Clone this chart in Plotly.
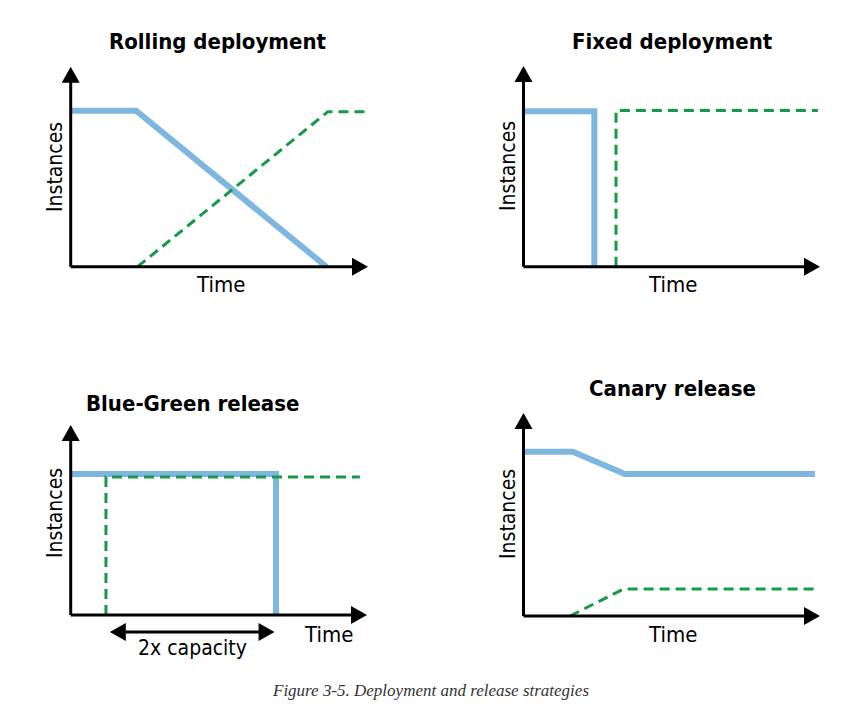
import plotly.graph_objects as go

W, H = 860, 712

# ---------------- data (time / instances, 0..10 units along each axis) -------------
ROLL_BLUE_T = [0.0, 2.2, 8.6]
ROLL_BLUE_N = [7.8, 7.8, 0.0]
ROLL_GREEN_T = [2.25, 8.65, 9.98]
ROLL_GREEN_N = [0.0, 7.75, 7.75]

FIX_BLUE_T = [0.0, 2.39, 2.39]
FIX_BLUE_N = [7.74, 7.74, 0.0]
FIX_GREEN_T = [3.12, 3.12, 9.93]
FIX_GREEN_N = [0.0, 7.78, 7.78]

BG_BLUE_T = [0.0, 6.93, 6.93]
BG_BLUE_N = [7.42, 7.42, 0.0]
BG_GREEN_T = [1.19, 1.19, 9.76]
BG_GREEN_N = [0.0, 7.26, 7.26]
BG_CAPACITY_T = [1.32, 6.88]
BG_CAPACITY_N = -0.9

CAN_BLUE_T = [0.0, 1.66, 3.42, 9.83]
CAN_BLUE_N = [8.09, 8.09, 7.0, 7.0]
CAN_GREEN_T = [1.57, 3.37, 9.83]
CAN_GREEN_N = [0.0, 1.33, 1.33]

TITLES = ["Rolling deployment", "Fixed deployment", "Blue-Green release", "Canary release"]
X_LABEL = "Time"
Y_LABEL = "Instances"
CAPACITY_LABEL = "2x capacity"
CAPTION = "Figure 3-5. Deployment and release strategies"

BLUE = "#7DB6DE"
GREEN = "#169A48"
SANS = "Liberation Sans Narrow, DejaVu Sans Condensed, Arial Narrow, sans-serif"
SERIF = "Liberation Serif, DejaVu Serif, serif"

# ---------------- layout geometry (pixels) -----------------------------------------
PANELS = [
    dict(ox=70.7, oy=266.7, tx=368.0, ty=66.7, title=(218, 41), time=(220, 284), inst=(55, 167)),
    dict(ox=523.5, oy=266.7, tx=820.0, ty=66.0, title=(672, 41), time=(672, 284), inst=(508, 166)),
    dict(ox=70.7, oy=615.0, tx=367.0, ty=425.0, title=(192, 403), time=(328, 634), inst=(55, 513)),
    dict(ox=523.5, oy=616.0, tx=820.0, ty=413.0, title=(672, 388), time=(672, 634), inst=(508, 514)),
]
SERIES = [
    (ROLL_BLUE_T, ROLL_BLUE_N, ROLL_GREEN_T, ROLL_GREEN_N),
    (FIX_BLUE_T, FIX_BLUE_N, FIX_GREEN_T, FIX_GREEN_N),
    (BG_BLUE_T, BG_BLUE_N, BG_GREEN_T, BG_GREEN_N),
    (CAN_BLUE_T, CAN_BLUE_N, CAN_GREEN_T, CAN_GREEN_N),
]
PAD = 40
HEAD_LEN = 16
HEAD_HALF = 9

fig = go.Figure()
shapes = []
annotations = []


def px(x):
    return x / W


def py(y):
    return 1 - y / H


for i, (p, (bt, bn, gt, gn)) in enumerate(zip(PANELS, SERIES)):
    k = "" if i == 0 else str(i + 1)
    xr, yr = "x" + k, "y" + k
    lx = p["tx"] - p["ox"]
    ly = p["oy"] - p["ty"]
    ux = 10.0 / lx
    uy = 10.0 / ly
    axis_common = dict(showgrid=False, zeroline=False, showticklabels=False,
                       ticks="", showline=False, fixedrange=True)
    fig.update_layout(**{
        "xaxis" + k: dict(domain=[px(p["ox"] - PAD), px(p["tx"] + PAD)],
                          range=[-PAD * ux, 10 + PAD * ux], anchor=yr, **axis_common),
        "yaxis" + k: dict(domain=[py(p["oy"] + PAD), py(p["ty"] - PAD)],
                          range=[-PAD * uy, 10 + PAD * uy], anchor=xr, **axis_common),
    })
    fig.add_trace(go.Scatter(x=bt, y=bn, mode="lines", xaxis=xr, yaxis=yr,
                             line=dict(color=BLUE, width=6), hoverinfo="skip",
                             showlegend=False))
    fig.add_trace(go.Scatter(x=gt, y=gn, mode="lines", xaxis=xr, yaxis=yr,
                             line=dict(color=GREEN, width=3, dash="10px,6px"),
                             hoverinfo="skip", showlegend=False))
    # axes with arrow heads
    shapes.append(dict(type="line", xref=xr, yref=yr, x0=0, y0=0, x1=10 - 4 * ux, y1=0,
                       line=dict(color="black", width=3), layer="above"))
    shapes.append(dict(type="line", xref=xr, yref=yr, x0=0, y0=0, x1=0, y1=10 - 4 * uy,
                       line=dict(color="black", width=3), layer="above"))
    hx = HEAD_LEN * ux
    hy = HEAD_HALF * uy
    shapes.append(dict(type="path", xref=xr, yref=yr,
                       path=f"M {10} 0 L {10 - hx} {hy} L {10 - hx} {-hy} Z",
                       fillcolor="black", line=dict(color="black", width=0), layer="above"))
    vx = HEAD_HALF * ux
    vy = HEAD_LEN * uy
    shapes.append(dict(type="path", xref=xr, yref=yr,
                       path=f"M 0 10 L {vx} {10 - vy} L {-vx} {10 - vy} Z",
                       fillcolor="black", line=dict(color="black", width=0), layer="above"))
    if i == 2:
        a, b = BG_CAPACITY_T
        c = BG_CAPACITY_N
        shapes.append(dict(type="line", xref=xr, yref=yr, x0=a + 8 * ux, y0=c, x1=b - 8 * ux, y1=c,
                           line=dict(color="black", width=3), layer="above"))
        shapes.append(dict(type="path", xref=xr, yref=yr,
                           path=f"M {a} {c} L {a + hx} {c + hy} L {a + hx} {c - hy} Z",
                           fillcolor="black", line=dict(color="black", width=0), layer="above"))
        shapes.append(dict(type="path", xref=xr, yref=yr,
                           path=f"M {b} {c} L {b - hx} {c + hy} L {b - hx} {c - hy} Z",
                           fillcolor="black", line=dict(color="black", width=0), layer="above"))
        annotations.append(dict(text=CAPACITY_LABEL, x=(a + b) / 2, y=c - 16 * uy,
                                xref=xr, yref=yr, showarrow=False,
                                xanchor="center", yanchor="middle",
                                font=dict(family=SANS, size=21, color="black")))
    annotations.append(dict(text="<b>" + TITLES[i] + "</b>", x=px(p["title"][0]), y=py(p["title"][1]),
                            xref="paper", yref="paper", showarrow=False,
                            xanchor="center", yanchor="middle",
                            font=dict(family=SANS, size=22, color="black")))
    annotations.append(dict(text=X_LABEL, x=px(p["time"][0]), y=py(p["time"][1]),
                            xref="paper", yref="paper", showarrow=False,
                            xanchor="center", yanchor="middle",
                            font=dict(family=SANS, size=22, color="black")))
    annotations.append(dict(text=Y_LABEL, x=px(p["inst"][0]), y=py(p["inst"][1]),
                            xref="paper", yref="paper", showarrow=False, textangle=-90,
                            xanchor="center", yanchor="middle",
                            font=dict(family=SANS, size=21, color="black")))

annotations.append(dict(text="<i>" + CAPTION + "</i>", x=px(430), y=py(690),
                        xref="paper", yref="paper", showarrow=False,
                        xanchor="center", yanchor="middle",
                        font=dict(family=SERIF, size=17, color="#333333")))

fig.update_layout(width=W, height=H, margin=dict(l=0, r=0, t=0, b=0),
                  paper_bgcolor="white", plot_bgcolor="white",
                  shapes=shapes, annotations=annotations, showlegend=False)

fig.write_html("out.html", config=dict(displayModeBar=False))
